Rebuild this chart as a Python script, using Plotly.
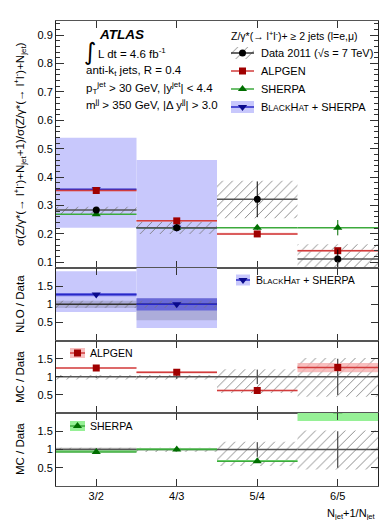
import plotly.graph_objects as go

# ---------------- data ----------------
bins = ["3/2", "4/3", "5/4", "6/5"]
xpos = [1, 2, 3, 4]

data_val = [0.284, 0.222, 0.322, 0.112]
data_stat = [0.008, 0.012, 0.063, 0.033]
data_sys_lo = [0.269, 0.200, 0.255, 0.070]
data_sys_hi = [0.296, 0.243, 0.387, 0.164]

alpgen_val = [0.353, 0.246, 0.200, 0.141]
alpgen_err = [0.004, 0.004, 0.004, 0.008]
alpgen_band_lo = [0.350, 0.243, 0.196, 0.138]
alpgen_band_hi = [0.356, 0.249, 0.204, 0.144]

sherpa_val = [0.269, 0.222, 0.222, 0.222]
sherpa_err = [0.004, 0.004, 0.008, 0.027]

bh_x = [1, 2]
bh_val = [0.357, 0.222]
bh_band_lo = [0.222, 0.050]
bh_band_hi = [0.539, 0.460]

# ratio panels
ratio_stat = [0.03, 0.05, 0.20, 0.50]
ratio_sys_lo = [0.93, 0.93, 0.55, 0.45]
ratio_sys_hi = [1.05, 1.05, 1.21, 1.52]

nlo_ratio = [1.27, 1.00]
nlo_tot_lo = [0.79, 0.35]
nlo_tot_hi = [1.91, 2.30]
nlo_in_lo = [1.22, 0.83]
nlo_in_hi = [1.31, 1.17]
nlo_data_lo = [0.90, 0.56]
nlo_data_hi = [1.10, 1.17]

alp_ratio = [1.245, 1.125, 0.62, 1.26]
alp_ratio_lo = [1.235, 1.09, 0.60, 1.13]
alp_ratio_hi = [1.255, 1.15, 0.64, 1.38]

sh_ratio = [0.93, 1.00, 0.68, 2.05]
sh_ratio_lo = [0.95, 0.99, 0.67, 1.78]
sh_ratio_hi = [0.98, 1.02, 0.71, 2.30]

# ---------------- styles ----------------
FONT = "Liberation Sans, Arial, Helvetica, sans-serif"
LBLUE = "rgb(200,200,252)"
NAVY = "rgb(10,10,140)"
DRED = "rgb(160,0,0)"
LRED = "rgb(210,60,60)"
PINK = "rgba(245,170,170,0.75)"
DGREEN = "rgb(0,110,0)"
LGREEN = "rgb(60,170,60)"
GREENBAND = "rgb(150,240,150)"
HATCH = dict(shape="/", fgcolor="#777", bgcolor="rgba(0,0,0,0)", size=7, solidity=0.12, fillmode="replace")

W, H = 390, 520
ML, MR, MT, MB = 48, 20, 13, 42
PW, PH = W - ML - MR, H - MT - MB

def py(p):
    return (H - MB - p) / PH

def pxx(p):
    return (p - ML) / PW

fig = go.Figure()

def band(x, lo, hi, ax, color=None, pattern=None, opacity=1.0):
    m = dict(line=dict(width=0))
    if pattern is not None:
        m["color"] = "#777"
        m["pattern"] = pattern
    else:
        m["color"] = color
    fig.add_trace(go.Bar(x=x, y=[h - l for h, l in zip(hi, lo)], base=lo, width=1,
                         marker=m, opacity=opacity, xaxis="x" + ax, yaxis="y" + ax,
                         showlegend=False, hoverinfo="skip"))

def line_pts(x, y, ax, mcolor, lcolor, symbol, size, err=None, lw=1.5, ecolor=None, showmarker=True):
    fig.add_trace(go.Scatter(
        x=x, y=y, mode="markers", xaxis="x" + ax, yaxis="y" + ax, showlegend=False,
        marker=dict(color=mcolor, symbol=symbol, size=size if showmarker else 0.1,
                    opacity=1 if showmarker else 0),
        error_x=dict(type="constant", value=0.5, width=0, thickness=lw, color=lcolor),
        error_y=dict(type="data", array=err if err else [0] * len(x), width=0, thickness=1,
                     color=ecolor or mcolor, visible=bool(err)),
        cliponaxis=True, hoverinfo="skip"))

# ---- main panel (axis '') ----
band(bh_x, bh_band_lo, bh_band_hi, "", color=LBLUE)
band(xpos, data_sys_lo, data_sys_hi, "", pattern=HATCH)
band(xpos, alpgen_band_lo, alpgen_band_hi, "", color=PINK)
line_pts(bh_x, bh_val, "", NAVY, "rgb(40,40,200)", "triangle-down", 8)
line_pts(xpos, sherpa_val, "", DGREEN, LGREEN, "triangle-up", 8, err=sherpa_err)
line_pts(xpos, alpgen_val, "", DRED, LRED, "square", 7, err=alpgen_err)
line_pts(xpos, data_val, "", "black", "#555", "circle", 7, err=data_stat, ecolor="black")

# ---- NLO / Data panel (axis '2') ----
band(bh_x, nlo_tot_lo, nlo_tot_hi, "2", color=LBLUE)
band(bh_x, nlo_data_lo, nlo_data_hi, "2", color="rgba(110,110,140,0.3)")
band(bh_x, nlo_in_lo, nlo_in_hi, "2", color="rgba(60,60,215,0.6)")
band(bh_x, nlo_data_lo[:1] + [0.90], nlo_data_hi[:1] + [1.10], "2", pattern=HATCH)
line_pts(bh_x, [1, 1], "2", "black", "#333", "circle", 1, lw=1.5, showmarker=False)
line_pts(bh_x, nlo_ratio, "2", NAVY, "rgb(40,40,200)", "triangle-down", 8)

# ---- ALPGEN / Data panel (axis '3') ----
band(xpos, ratio_sys_lo, ratio_sys_hi, "3", pattern=HATCH)
band(xpos, alp_ratio_lo, alp_ratio_hi, "3", color=PINK)
line_pts(xpos, [1, 1, 1, 1], "3", "black", "#555", "circle", 1, err=ratio_stat,
         ecolor="#222", showmarker=False)
line_pts(xpos, alp_ratio, "3", DRED, LRED, "square", 7)

# ---- SHERPA / Data panel (axis '4') ----
band(xpos[:1], ratio_sys_lo[:1], ratio_sys_hi[:1], "4", color="rgba(120,120,120,0.45)")
band(xpos, ratio_sys_lo, ratio_sys_hi, "4", pattern=HATCH)
band(xpos, sh_ratio_lo, sh_ratio_hi, "4", color=GREENBAND)
line_pts(xpos, [1, 1, 1, 1], "4", "black", "#555", "circle", 1, err=ratio_stat,
         ecolor="#222", showmarker=False)
line_pts(xpos, sh_ratio, "4", DGREEN, LGREEN, "triangle-up", 8)

# ---- legend (overlay axis in pixel coordinates) ----
leg_xc = 234.5
fig.add_trace(go.Bar(x=[leg_xc], y=[12], base=[39], width=[23], xaxis="x5", yaxis="y5",
                     marker=dict(color="#777", pattern=HATCH, line=dict(width=0)),
                     showlegend=False, hoverinfo="skip"))
fig.add_trace(go.Bar(x=[leg_xc, 235, 69.5, 69.5], y=[12, 11, 10, 10], base=[93, 266.5, 340, 413],
                     width=[23, 14, 15, 15], xaxis="x5", yaxis="y5",
                     marker=dict(color=[LBLUE, LBLUE, PINK, GREENBAND], line=dict(width=0)),
                     showlegend=False, hoverinfo="skip"))
leg_items = [
    (leg_xc, 45, 11.5, "black", "#333", "circle", 7),
    (leg_xc, 63, 11.5, DRED, LRED, "square", 7),
    (leg_xc, 81, 11.5, DGREEN, LGREEN, "triangle-up", 8),
    (leg_xc, 99, 11.5, NAVY, "rgb(40,40,200)", "triangle-down", 8),
    (235, 272, 7, NAVY, "rgb(40,40,200)", "triangle-down", 8),
    (69.5, 345, 7.5, DRED, LRED, "square", 7),
    (69.5, 418, 7.5, DGREEN, LGREEN, "triangle-up", 8),
]
for xc, yc, hw, mc, lc, sym, sz in leg_items:
    fig.add_trace(go.Scatter(x=[xc], y=[yc], mode="markers", xaxis="x5", yaxis="y5",
                             marker=dict(color=mc, symbol=sym, size=sz),
                             error_x=dict(type="constant", value=hw, width=0, thickness=1.5, color=lc),
                             showlegend=False, hoverinfo="skip", cliponaxis=False))

# ---------------- annotations ----------------
ann = []
def text(x, y, s, size=10, xanchor="left", angle=0, yanchor="middle", family=FONT):
    ann.append(dict(x=pxx(x), y=py(y), xref="paper", yref="paper", text=s, showarrow=False,
                    xanchor=xanchor, yanchor=yanchor, textangle=angle,
                    font=dict(size=size, family=family, color="black")))

text(89, 26, "<b><i>ATLAS</i></b>", size=13.5)
text(74, 44, "∫", size=24, family="DejaVu Sans")
text(88, 45, "L dt = 4.6 fb<sup>-1</sup>", size=11.5)
text(76, 63, "anti-k<sub>t</sub> jets, R = 0.4", size=11.5)
text(76, 80, "p<sub>T</sub><sup>jet</sup> > 30 GeV, |y<sup>jet</sup>| < 4.4", size=11.5)
text(76, 96, "m<sup>jj</sup> > 350 GeV, |Δ y<sup>jj</sup>| > 3.0", size=11.5)

SC = "font-size:8.5px"
bh_txt = f"B<span style='{SC}'>LACK</span>H<span style='{SC}'>AT</span> + SHERPA"
SC2 = "font-size:7.8px"
bh_txt2 = f"B<span style='{SC2}'>LACK</span>H<span style='{SC2}'>AT</span> + SHERPA"
text(221, 27, "Z/γ*(→ l<sup>+</sup>l<sup>-</sup>)+ ≥ 2 jets (l=e,μ)", size=10.5)
text(251, 45, "Data 2011 (√s = 7 TeV)", size=11)
text(251, 63, "ALPGEN", size=11)
text(251, 81, "SHERPA", size=11)
text(251, 99, bh_txt, size=11)
text(246, 272, bh_txt2, size=10.5)
text(80, 345, "ALPGEN", size=10.5)
text(80, 418, "SHERPA", size=10.5)

ytitle = ("σ(Z/γ*(→ l<sup>+</sup>l<sup>-</sup>)+N<sub>jet</sub>+1)/"
          "σ(Z/γ*(→ l<sup>+</sup>l<sup>-</sup>)+N<sub>jet</sub>)")
text(12, 136, ytitle, size=11.5, xanchor="center", angle=-90)
text(12, 296, "NLO / Data", size=11.5, xanchor="center", angle=-90)
text(12, 369, "MC / Data", size=11.5, xanchor="center", angle=-90)
text(12, 441, "MC / Data", size=11.5, xanchor="center", angle=-90)
text(370, 506, "N<sub>jet</sub>+1/N<sub>jet</sub>", size=11, xanchor="right")

# ---------------- layout ----------------
d_main = [py(260), 1]
d_nlo = [py(332.7), py(260)]
d_alp = [py(405), py(332.7)]
d_sh = [0, py(405)]

def xax(anchor, labels):
    return dict(domain=[0, 1], anchor=anchor, range=[0.5, 4.5], tickvals=xpos, ticktext=bins,
                showticklabels=labels, ticks="inside", ticklen=7, tickcolor="#333", mirror="allticks",
                showline=True, linecolor="#555", linewidth=1.2, showgrid=False, zeroline=False,
                tickfont=dict(size=11, family=FONT, color="black"))

def yax(anchor, dom, rng, vals, ticklen=7, minor=None):
    d = dict(domain=dom, anchor=anchor, range=rng, tickvals=vals, ticks="inside", ticklen=ticklen,
             tickcolor="#333", mirror="allticks", showline=True, linecolor="#222", linewidth=1,
             showgrid=False, zeroline=False, tickfont=dict(size=11, family=FONT, color="black"))
    if minor:
        d["minor"] = minor
    return d

fig.update_layout(
    width=W, height=H, margin=dict(l=ML, r=MR, t=MT, b=MB),
    paper_bgcolor="white", plot_bgcolor="rgba(0,0,0,0)",
    barmode="overlay", showlegend=False, annotations=ann,
    font=dict(family=FONT, color="black"),
    xaxis=xax("y", False), xaxis2=xax("y2", False), xaxis3=xax("y3", False), xaxis4=xax("y4", True),
    yaxis=yax("x", d_main, [0.08, 0.95], [0.1, 0.2, 0.3, 0.4, 0.5, 0.6, 0.7, 0.8, 0.9], ticklen=8,
              minor=dict(dtick=0.02, tick0=0, ticks="inside", ticklen=4, tickcolor="#333", showgrid=False)),
    yaxis2=yax("x2", d_nlo, [0, 2], [0.5, 1, 1.5]),
    yaxis3=yax("x3", d_alp, [0, 2], [0.5, 1, 1.5]),
    yaxis4=yax("x4", d_sh, [0, 2], [0.5, 1, 1.5]),
    xaxis5=dict(domain=[0, 1], anchor="y5", range=[ML, W - MR], visible=False),
    yaxis5=dict(domain=[0, 1], anchor="x5", range=[H - MB, MT], visible=False),
)

fig.write_html("out.html")
